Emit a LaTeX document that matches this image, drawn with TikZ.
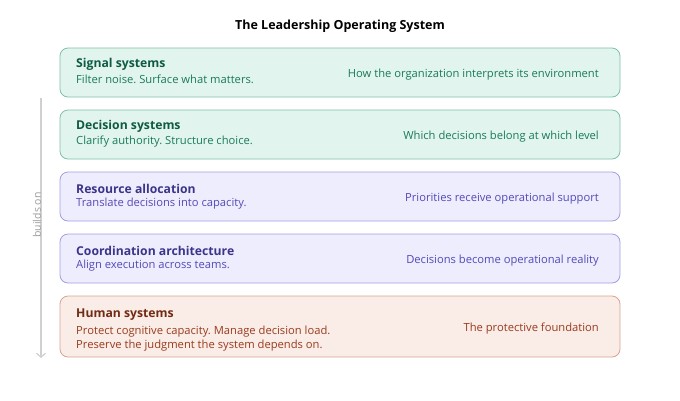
\documentclass[tikz,border=0pt]{standalone}
\usepackage{fontspec}
\setmainfont{Open Sans}
\usetikzlibrary{arrows.meta}
\frenchspacing
\definecolor{grfill}{HTML}{E1F5EE}
\definecolor{grline}{HTML}{7FC2A8}
\definecolor{grhead}{HTML}{0F5A43}
\definecolor{grtext}{HTML}{1A7A5A}
\definecolor{pufill}{HTML}{EEEDFE}
\definecolor{puline}{HTML}{A39EDE}
\definecolor{puhead}{HTML}{3C3489}
\definecolor{putext}{HTML}{534AB7}
\definecolor{orfill}{HTML}{FAECE7}
\definecolor{orline}{HTML}{D9A48F}
\definecolor{orhead}{HTML}{712B13}
\definecolor{ortext}{HTML}{993C1D}
\definecolor{arrowgray}{HTML}{D0D0D0}
\tikzset{
  layer/.style={rounded corners=8pt, line width=0.8pt},
  head/.style={anchor=west, inner sep=0pt, font=\fontsize{12.2}{14}\selectfont\bfseries},
  sub/.style={anchor=west, inner sep=0pt, font=\fontsize{11.2}{13}\selectfont, align=left},
  note/.style={anchor=east, inner sep=0pt, font=\fontsize{11.2}{13}\selectfont},
}
\begin{document}
\begin{tikzpicture}[x=1pt,y=-1pt]
\useasboundingbox (0,0) rectangle (680,400);
\node[font=\fontsize{12.5}{15}\selectfont\bfseries] (title) at (340,26) {The Leadership Operating System};

% layers, top to bottom
\draw[layer, draw=grline, fill=grfill] (60,48) rectangle (620,97);
\node[head, text=grhead] (signal) at (76,64.5) {Signal systems};
\node[sub, text=grtext] (signalsub) at (76,79.5) {Filter noise. Surface what matters.};
\node[note, text=grtext] (signalnote) at (599,74.5) {How the organization interprets its environment};

\draw[layer, draw=grline, fill=grfill] (60,110) rectangle (620,159);
\node[head, text=grhead] (decision) at (76,126.5) {Decision systems};
\node[sub, text=grtext] (decisionsub) at (76,141.5) {Clarify authority. Structure choice.};
\node[note, text=grtext] (decisionnote) at (599,136.5) {Which decisions belong at which level};

\draw[layer, draw=puline, fill=pufill] (60,172) rectangle (620,221);
\node[head, text=puhead] (resource) at (76,188.5) {Resource allocation};
\node[sub, text=putext] (resourcesub) at (76,203.5) {Translate decisions into capacity.};
\node[note, text=putext] (resourcenote) at (599,198.5) {Priorities receive operational support};

\draw[layer, draw=puline, fill=pufill] (60,234) rectangle (620,283);
\node[head, text=puhead] (coord) at (76,250.5) {Coordination architecture};
\node[sub, text=putext] (coordsub) at (76,265.5) {Align execution across teams.};
\node[note, text=putext] (coordnote) at (599,260.5) {Decisions become operational reality};

\draw[layer, draw=orline, fill=orfill] (60,296) rectangle (620,357);
\node[head, text=orhead] (human) at (76,314.5) {Human systems};
\node[sub, text=ortext] (humansub1) at (76,331.5) {Protect cognitive capacity. Manage decision load.};
\node[sub, text=ortext] (humansub2) at (76,345.5) {Preserve the judgment the system depends on.};
\node[note, text=ortext] (humannote) at (599,328.5) {The protective foundation};

% side arrow
\coordinate (top) at (41,98);
\coordinate (bottom) at (41,358);
\draw[arrowgray, line width=1.2pt, -{Straight Barb[length=4pt,width=9pt]}] (top) -- (bottom);
\node[rotate=90, text=arrowgray!75!black, font=\fontsize{10.5}{13}\selectfont] (builds) at (37,215) {builds on};
\end{tikzpicture}
\end{document}
